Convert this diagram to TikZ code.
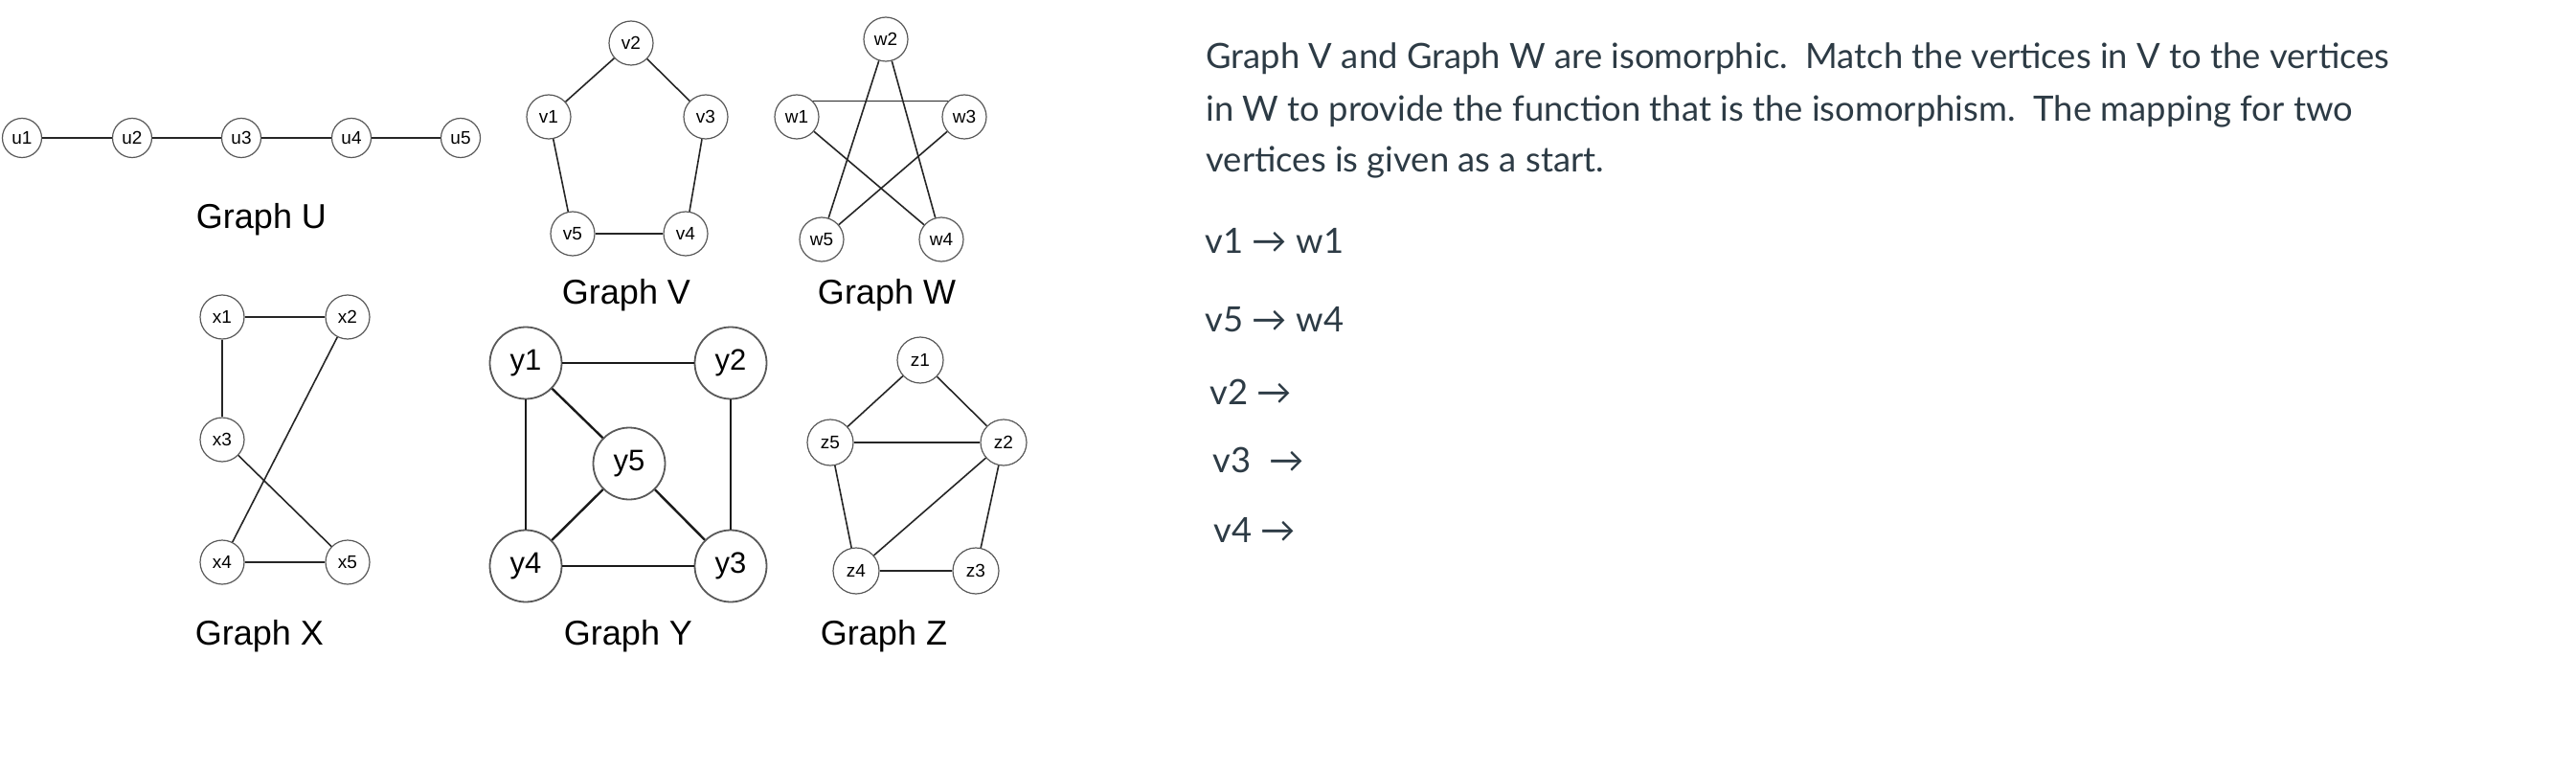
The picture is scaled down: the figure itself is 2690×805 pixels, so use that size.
\documentclass[tikz,border=0pt]{standalone}
\usepackage{fontspec}
\setmainfont{Liberation Sans}
\newfontfamily\latofont{Lato}
\usetikzlibrary{positioning}
\definecolor{canvastext}{HTML}{2D3B45}

\begin{document}
\begin{tikzpicture}[x=1pt,y=-1pt,
  vert/.style={circle,draw=black!65,line width=1.2pt,fill=white,inner sep=0pt,minimum size=46pt,font=\fontsize{19}{19}\selectfont},
  bigvert/.style={vert,minimum size=75pt,line width=1.8pt,font=\fontsize{31}{31}\selectfont},
  edge/.style={line width=1.6pt,black!85},
  bigedge/.style={line width=2.4pt,black!90},
  title/.style={anchor=base,font=\fontsize{36}{36}\selectfont},
  prose/.style={anchor=base west,text=canvastext,font=\latofont\fontsize{36.4}{36.4}\selectfont}]
  \useasboundingbox (0,0) rectangle (2690,805);

  \node[vert,minimum size=41pt] (u1) at (23,144) {u1};
  \node[vert,minimum size=41pt] (u2) at (138,144) {u2};
  \node[vert,minimum size=41pt] (u3) at (252,144) {u3};
  \node[vert,minimum size=41pt] (u4) at (367,144) {u4};
  \node[vert,minimum size=41pt] (u5) at (481,144) {u5};
  \draw[edge] (u1) -- (u2);
  \draw[edge] (u2) -- (u3);
  \draw[edge] (u3) -- (u4);
  \draw[edge] (u4) -- (u5);
  \node[title] (gu) at (273,239) {Graph U};

  \node[vert] (v2) at (659,45) {v2};
  \node[vert] (v1) at (573,122) {v1};
  \node[vert] (v3) at (737,122) {v3};
  \node[vert] (v5) at (598,244) {v5};
  \node[vert] (v4) at (716,244) {v4};
  \draw[edge] (v1) -- (v2);
  \draw[edge] (v2) -- (v3);
  \draw[edge] (v3) -- (v4);
  \draw[edge] (v4) -- (v5);
  \draw[edge] (v5) -- (v1);
  \node[title] (gv) at (654,317) {Graph V};

  \node[vert] (w2) at (925,41) {w2};
  \node[vert] (w1) at (832,122) {w1};
  \node[vert] (w3) at (1007,122) {w3};
  \node[vert] (w5) at (858,250) {w5};
  \node[vert] (w4) at (983,250) {w4};
  \draw[edge] (w1.north east) -- (w3.north west);
  \draw[edge] (w2) -- (w5);
  \draw[edge] (w2) -- (w4);
  \draw[edge] (w1) -- (w4);
  \draw[edge] (w3) -- (w5);
  \node[title] (gw) at (926,317) {Graph W};

  \node[vert] (x1) at (232,331) {x1};
  \node[vert] (x2) at (363,331) {x2};
  \node[vert] (x3) at (232,459) {x3};
  \node[vert] (x4) at (232,587) {x4};
  \node[vert] (x5) at (363,587) {x5};
  \draw[edge] (x1) -- (x2);
  \draw[edge] (x1) -- (x3);
  \draw[edge] (x2) -- (x4);
  \draw[edge] (x3) -- (x5);
  \draw[edge] (x4) -- (x5);
  \node[title] (gx) at (271,673) {Graph X};

  \node[bigvert] (y1) at (549,379) {y1};
  \node[bigvert] (y2) at (763,379) {y2};
  \node[bigvert] (y5) at (657,484) {y5};
  \node[bigvert] (y4) at (549,591) {y4};
  \node[bigvert] (y3) at (763,591) {y3};
  \draw[bigedge] (y1) -- (y2);
  \draw[bigedge] (y1) -- (y4);
  \draw[bigedge] (y1) -- (y5);
  \draw[bigedge] (y2) -- (y3);
  \draw[bigedge] (y5) -- (y4);
  \draw[bigedge] (y5) -- (y3);
  \draw[bigedge] (y4) -- (y3);
  \node[title] (gy) at (656,673) {Graph Y};

  \node[vert,minimum size=48pt] (z1) at (961,376) {z1};
  \node[vert,minimum size=48pt] (z5) at (867,462) {z5};
  \node[vert,minimum size=48pt] (z2) at (1048,462) {z2};
  \node[vert,minimum size=48pt] (z4) at (894,596) {z4};
  \node[vert,minimum size=48pt] (z3) at (1019,596) {z3};
  \draw[edge] (z1) -- (z5);
  \draw[edge] (z1) -- (z2);
  \draw[edge] (z5) -- (z2);
  \draw[edge] (z5) -- (z4);
  \draw[edge] (z2) -- (z4);
  \draw[edge] (z2) -- (z3);
  \draw[edge] (z4) -- (z3);
  \node[title] (gz) at (923,673) {Graph Z};

  \node[prose] (p1) at (1256,72) {Graph V and Graph W are isomorphic.\ \ Match the vertices in V to the vertices};
  \node[prose] (p2) at (1256,126.5) {in W to provide the function that is the isomorphism.\ \ The mapping for two};
  \node[prose] (p3) at (1256,180) {vertices is given as a start.};
  \node[prose] (m1) at (1255,264) {v1 → w1};
  \node[prose] (m2) at (1255,346) {v5 → w4};
  \node[prose] (m3) at (1260,422) {v2 →};
  \node[prose] (m4) at (1263,493) {v3 \ →};
  \node[prose] (m5) at (1264,566) {v4 →};
\end{tikzpicture}
\end{document}
